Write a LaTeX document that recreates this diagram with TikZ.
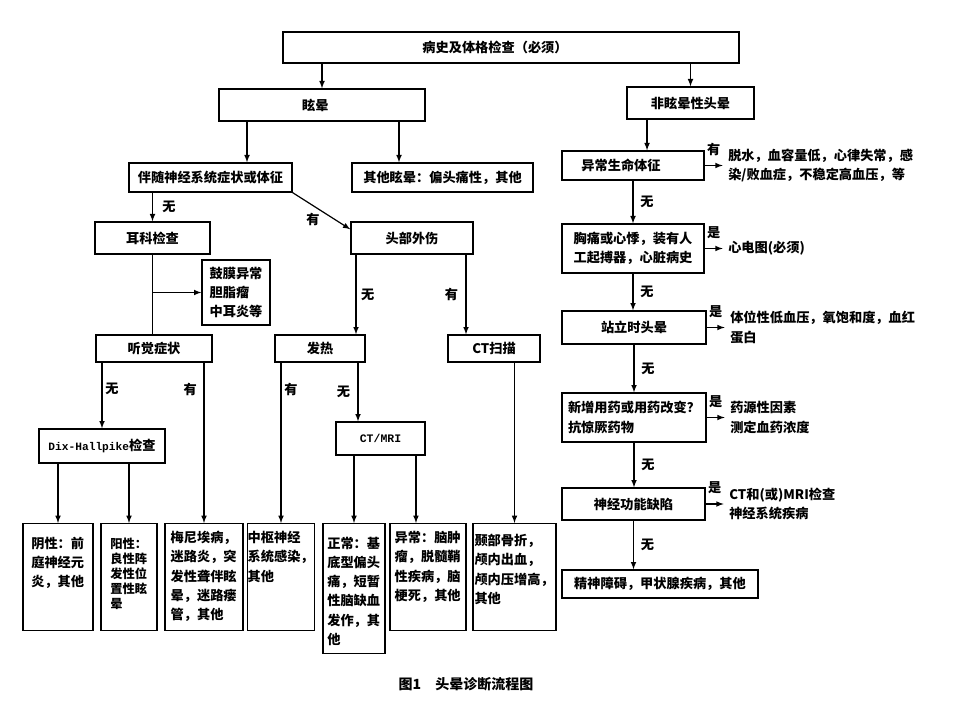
\documentclass[tikz,border=0pt]{standalone}
\usepackage{fontspec}
\setmainfont{Noto Sans CJK SC}
\setmonofont{Liberation Mono}
\usetikzlibrary{arrows, positioning}

\begin{document}
\begin{tikzpicture}[
    x=0.75pt, y=-0.75pt,
    every node/.style={font=\bfseries\fontsize{9.9pt}{14.4pt}\selectfont},
    box/.style={rectangle, draw, line width=1pt, inner sep=0pt, text centered},
    listbox/.style={rectangle, draw, line width=1pt, anchor=north, inner xsep=0pt, inner ysep=4pt, align=left, text height=14.5pt, text depth=57.75pt},
    note/.style={inner xsep=4pt, inner ysep=0pt, align=left},
    flow/.style={-latex, line width=0.9pt},
    tag/.style={inner sep=1pt}
]
\useasboundingbox (0,0) rectangle (960,720);

% Top of the chart
\node[box, minimum width=342pt, minimum height=23.25pt] (history) at (511,47.5) {病史及体格检查（必须）\kern24pt};
\node[box, minimum width=154.5pt, minimum height=24pt] (vertigo) at (322,105) {眩晕\kern10pt};
\node[box, minimum width=95.25pt, minimum height=24pt] (nonvert) at (690.5,103) {非眩晕性头晕};

% Vertigo branch
\node[box, minimum width=122.25pt, minimum height=21.75pt] (neuro) at (210.5,177.5) {伴随神经系统症状或体征};
\node[box, minimum width=135.75pt, minimum height=21.75pt] (othervert) at (442.5,177.5) {其他眩晕：偏头痛性，其他};
\node[box, minimum width=86.25pt, minimum height=24pt] (ear) at (152.5,238) {耳科检查};
\node[box, minimum width=91.5pt, minimum height=24pt] (trauma) at (412,238) {头部外伤};
\node[box, align=left, minimum width=51pt, minimum height=48.75pt] (eardrum) at (236,292.5) {鼓膜异常\\胆脂瘤\\中耳炎等};
\node[box, minimum width=87pt, minimum height=20.25pt] (hearing) at (154,348.5) {听觉症状};
\node[box, minimum width=67.5pt, minimum height=20.25pt] (fever) at (320,348.5) {发热};
\node[box, minimum width=69pt, minimum height=20.25pt] (ctscan) at (494,348.5) {CT扫描};
\node[box, minimum width=94.5pt, minimum height=25.5pt] (dix) at (102,446) {{\ttfamily\bfseries\fontsize{8.4pt}{10pt}\selectfont Dix-Hallpike}检查};
\node[box, minimum width=66.75pt, minimum height=24.75pt] (ctmri) at (380.5,438.5) {{\ttfamily\bfseries\fontsize{8.6pt}{10pt}\selectfont CT/MRI}};

% Diagnoses in the bottom row
\node[listbox, text width=40pt, minimum width=52.5pt] (vneg) at (58,523) {阴性：前\\庭神经元\\炎，其他};
\node[listbox, text width=28pt, minimum width=42pt, font=\bfseries\fontsize{9.2pt}{11.3pt}\selectfont] (vpos) at (129,523) {阳性：\\良性阵\\发性位\\置性眩\\晕};
\node[listbox, text width=50pt, minimum width=58.5pt, text height=10.25pt, text depth=62pt] (menie) at (204,523) {梅尼埃病，\\迷路炎，突\\发性聋伴眩\\晕，迷路瘘\\管，其他};
\node[listbox, text width=50pt, minimum width=49.5pt, text height=10.25pt, text depth=62pt] (cns) at (281,523) {中枢神经\\系统感染，\\其他};
\node[listbox, text width=40pt, minimum width=46.5pt, text depth=75pt] (normal) at (354,523) {正常：基\\底型偏头\\痛，短暂\\性脑缺血\\发作，其\\他};
\node[listbox, text width=50pt, minimum width=57pt, text height=10.25pt, text depth=62pt] (abnormal) at (428,523) {异常：脑肿\\瘤，脱髓鞘\\性疾病，脑\\梗死，其他};
\node[listbox, text width=60pt, minimum width=62.25pt, text height=12.5pt, text depth=59.75pt] (skull) at (514.5,523) {颞部骨折，\\颅内出血，\\颅内压增高，\\其他};

% Non-vertigo branch
\node[box, minimum width=106.5pt, minimum height=21.75pt] (vital) at (633,165.5) {异常生命体征\kern18pt};
\node[box, align=left, minimum width=106.5pt, minimum height=36.75pt] (chest) at (633,248.5) {胸痛或心悸，装有人\\工起搏器，心脏病史};
\node[box, minimum width=108pt, minimum height=24.75pt] (standing) at (634,327.5) {站立时头晕};
\node[box, align=left, minimum width=108pt, minimum height=36.75pt] (drugs) at (634,417.5) {新增用药或用药改变？\\抗惊厥药物};
\node[box, minimum width=107.25pt, minimum height=24pt] (deficit) at (633.5,504) {神经功能缺陷};
\node[box, minimum width=147pt, minimum height=21pt] (psych) at (660,584) {精神障碍，甲状腺疾病，其他};

\node[note, right=13.5pt of vital] (vitalres) {脱水，血容量低，心律失常，感\\染/败血症，不稳定高血压，等};
\node[note, right=13.5pt of chest] (ecg) {心电图(必须)};
\node[note, right=13.5pt of standing] (posture) {体位性低血压，氧饱和度，血红\\蛋白};
\node[note, right=13.5pt of drugs] (druginfo) {药源性因素\\测定血药浓度};
\node[note, right=13.5pt of deficit] (imaging) {CT和(或)MRI检查\\神经系统疾病};

\node[font=\bfseries\fontsize{10.5pt}{12pt}\selectfont] (caption) at (466,684) {图1\quad 头晕诊断流程图};

% Arrows, left part
\draw[flow] (history.south -| vertigo.north) -- (vertigo.north);
\draw[flow] (history.south -| nonvert.north) -- (nonvert.north);
\draw[flow] ([xshift=-56.25pt]vertigo.south) -- ([xshift=-56.25pt]vertigo.south |- neuro.north);
\draw[flow] ([xshift=57.75pt]vertigo.south) -- ([xshift=57.75pt]vertigo.south |- othervert.north);
\draw[flow] (neuro.south -| ear.north) -- (ear.north) node[tag, midway, right=6pt] {无};
\draw[flow] (neuro.south east) -- ([yshift=-6pt]trauma.north west) node[tag, midway, below left] {有};
\draw[line width=0.9pt] (ear.south) -- (ear.south |- hearing.north);
\draw[flow] (ear.south |- eardrum.west) -- (eardrum.west);
\draw[flow] ([xshift=-42pt]trauma.south) -- ([xshift=-42pt]trauma.south |- fever.north) node[tag, midway, right=2.3pt] {无};
\draw[flow] ([xshift=40.5pt]trauma.south) -- ([xshift=40.5pt]trauma.south |- ctscan.north) node[tag, midway, left=4.5pt] {有};
\draw[flow] (hearing.south -| dix.north) -- (dix.north) node[tag, pos=0.4, right=1pt] {无};
\draw[flow] (hearing.south -| menie.north) -- (menie.north) node[tag, pos=0.17, left=4pt] {有};
\draw[flow] (fever.south -| cns.north) -- (cns.north) node[tag, pos=0.17, right=1pt] {有};
\draw[flow] ([xshift=28.5pt]fever.south) -- ([xshift=28.5pt]fever.south |- ctmri.north) node[tag, midway, left=4.5pt] {无};
\draw[flow] (ctscan.south -| skull.north) -- (skull.north);
\draw[flow] (dix.south -| vneg.north) -- (vneg.north);
\draw[flow] (dix.south -| vpos.north) -- (vpos.north);
\draw[flow] (ctmri.south -| normal.north) -- (normal.north);
\draw[flow] ([xshift=26.6pt]ctmri.south) -- ([xshift=26.6pt]ctmri.south |- abnormal.north);

% Arrows, right part
\draw[flow] ([xshift=-32.6pt]nonvert.south) -- ([xshift=-32.6pt]nonvert.south |- vital.north);
\draw[flow] (vital.south) -- (vital.south |- chest.north) node[tag, midway, right=4pt] {无};
\draw[flow] (chest.south) -- (chest.south |- standing.north) node[tag, midway, right=4pt] {无};
\draw[flow] (standing.south) -- (standing.south |- drugs.north) node[tag, midway, right=4pt] {无};
\draw[flow] (drugs.south) -- (drugs.south |- deficit.north) node[tag, midway, right=4pt] {无};
\draw[flow] (deficit.south) -- (deficit.south |- psych.north) node[tag, midway, right=4pt] {无};
\draw[flow] (vital) -- (vitalres) node[tag, midway, above=6pt] {有};
\draw[flow] (chest) -- (ecg) node[tag, midway, above=6pt] {是};
\draw[flow] (standing) -- (posture) node[tag, midway, above=6pt] {是};
\draw[flow] (drugs) -- (druginfo) node[tag, midway, above=6pt] {是};
\draw[flow] (deficit) -- (imaging) node[tag, midway, above=6pt] {是};

\end{tikzpicture}
\end{document}
